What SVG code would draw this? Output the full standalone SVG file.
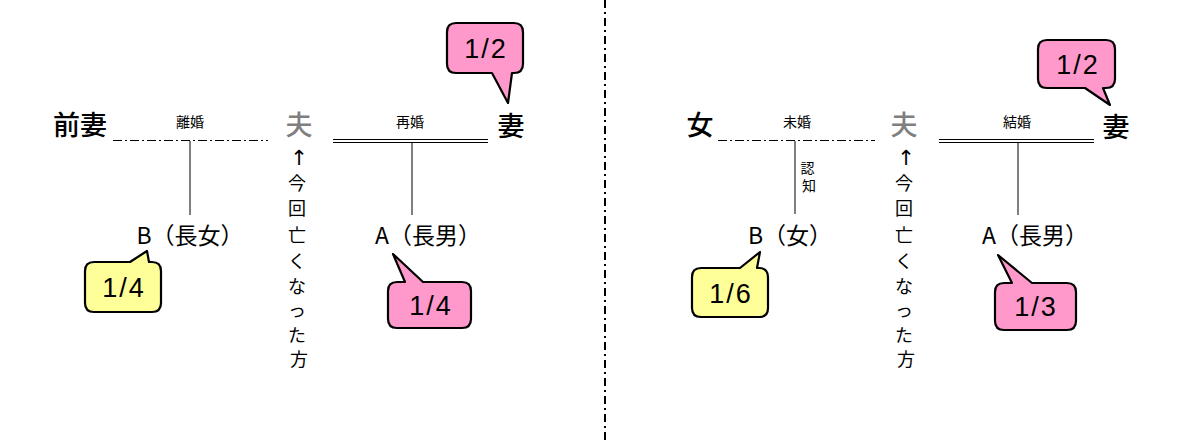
<svg xmlns="http://www.w3.org/2000/svg" width="1177" height="442" viewBox="0 0 1177 442">
<style>
.bg{fill:#ffffff}
.big{font-family:"Noto Sans CJK JP","Liberation Sans",sans-serif;font-size:27px;font-weight:500;fill:#000;text-anchor:middle}
.dead{fill:#7f7f7f}
.small{font-family:"Noto Sans CJK JP","Liberation Sans",sans-serif;font-size:14px;fill:#000;text-anchor:middle}
.child{font-family:"Noto Sans CJK JP","Liberation Sans",sans-serif;font-size:23px;font-weight:400;fill:#000;text-anchor:middle}
.vert{font-family:"Noto Sans CJK JP","Liberation Sans",sans-serif;font-size:18px;fill:#000;text-anchor:middle}
.arrow{font-family:"DejaVu Sans","Liberation Sans",sans-serif;font-size:21px;fill:#000;text-anchor:middle}
.frac{font-family:"Liberation Sans","Noto Sans CJK JP",sans-serif;font-size:27px;fill:#000;text-anchor:middle;letter-spacing:2px}
.pink{fill:#ff99cc;stroke:#000;stroke-width:2.2;stroke-linejoin:round}
.yellow{fill:#ffff99;stroke:#000;stroke-width:2.2;stroke-linejoin:round}
.ln{stroke:#000;stroke-width:1;fill:none}
.dd{stroke:#000;stroke-width:1;fill:none;stroke-dasharray:9 3 2 3}
.divider{stroke:#000;stroke-width:2;fill:none;stroke-dasharray:8 4 2 4}
</style>
<rect class="bg" x="0" y="0" width="1177" height="442"/>

<g id="connectors">
  <line class="divider" x1="605" y1="0" x2="605" y2="442"/>
  <line class="dd" x1="113" y1="140.5" x2="268" y2="140.5"/>
  <line class="ln" x1="190" y1="141" x2="190" y2="215"/>
  <line class="ln" x1="333" y1="139.5" x2="488" y2="139.5"/>
  <line class="ln" x1="333" y1="142.5" x2="488" y2="142.5"/>
  <line class="ln" x1="412" y1="143" x2="412" y2="215"/>
  <line class="dd" x1="718" y1="140.5" x2="875" y2="140.5"/>
  <line class="ln" x1="795" y1="141" x2="795" y2="214"/>
  <line class="ln" x1="939" y1="139.5" x2="1094" y2="139.5"/>
  <line class="ln" x1="939" y1="142.5" x2="1094" y2="142.5"/>
  <line class="ln" x1="1018" y1="143" x2="1018" y2="215"/>
</g>

<g id="left-exwife"><text class="big" x="80" y="135">前妻</text></g>
<g id="left-divorce-label"><text class="small" x="190" y="127">離婚</text></g>
<g id="left-husband">
  <text class="big dead" x="299" y="135">夫</text>
  <text class="arrow" x="299" y="165">↑</text>
  <text class="vert" x="299">
    <tspan x="299" y="190">今</tspan>
    <tspan x="299" y="215">回</tspan>
    <tspan x="299" y="242">亡</tspan>
    <tspan x="299" y="268">く</tspan>
    <tspan x="299" y="293">な</tspan>
    <tspan x="299" y="317">っ</tspan>
    <tspan x="299" y="342">た</tspan>
    <tspan x="299" y="366">方</tspan>
  </text>
</g>
<g id="left-remarry-label"><text class="small" x="410" y="127">再婚</text></g>
<g id="left-wife"><text class="big" x="511" y="136">妻</text></g>
<g id="left-childB"><text class="child" x="190" y="244">B（長女）</text></g>
<g id="left-childA"><text class="child" x="428" y="244">A（長男）</text></g>

<g id="left-wife-share">
  <path class="pink" d="M456,23 H514 Q523,23 523,32 V64 Q523,73 514,73 H512 L508,103 L492,73 H456 Q447,73 447,64 V32 Q447,23 456,23 Z"/>
  <text class="frac" x="486" y="58">1/2</text>
</g>
<g id="left-childB-share">
  <path class="yellow" d="M94,262 H130 L147,251 L149,262 H152 Q161,262 161,271 V303 Q161,312 152,312 H94 Q85,312 85,303 V271 Q85,262 94,262 Z"/>
  <text class="frac" x="124" y="297">1/4</text>
</g>
<g id="left-childA-share">
  <path class="pink" d="M397,282 H405 L393,254 L423,282 H462 Q471,282 471,291 V319 Q471,328 462,328 H397 Q388,328 388,319 V291 Q388,282 397,282 Z"/>
  <text class="frac" x="431" y="315">1/4</text>
</g>

<g id="right-woman"><text class="big" x="700" y="135">女</text></g>
<g id="right-unmarried-label"><text class="small" x="797" y="127">未婚</text></g>
<g id="right-acknowledge-label">
  <text class="small" x="809">
    <tspan x="809" y="173">認</tspan>
    <tspan x="809" y="191">知</tspan>
  </text>
</g>
<g id="right-husband">
  <text class="big dead" x="904" y="135">夫</text>
  <text class="arrow" x="906" y="165">↑</text>
  <text class="vert" x="906">
    <tspan x="906" y="190">今</tspan>
    <tspan x="906" y="215">回</tspan>
    <tspan x="906" y="242">亡</tspan>
    <tspan x="906" y="268">く</tspan>
    <tspan x="906" y="293">な</tspan>
    <tspan x="906" y="317">っ</tspan>
    <tspan x="906" y="342">た</tspan>
    <tspan x="906" y="366">方</tspan>
  </text>
</g>
<g id="right-marry-label"><text class="small" x="1017" y="127">結婚</text></g>
<g id="right-wife"><text class="big" x="1116" y="137">妻</text></g>
<g id="right-childB"><text class="child" x="790" y="244">B（女）</text></g>
<g id="right-childA"><text class="child" x="1035" y="244">A（長男）</text></g>

<g id="right-wife-share">
  <path class="pink" d="M1047,40 H1106 Q1115,40 1115,49 V79 Q1115,88 1106,88 H1103 L1110,105 L1085,88 H1047 Q1038,88 1038,79 V49 Q1038,40 1047,40 Z"/>
  <text class="frac" x="1078" y="74">1/2</text>
</g>
<g id="right-childB-share">
  <path class="yellow" d="M701,268 H740 L760,252 L757,268 H759 Q768,268 768,277 V308 Q768,317 759,317 H701 Q692,317 692,308 V277 Q692,268 701,268 Z"/>
  <text class="frac" x="731" y="303">1/6</text>
</g>
<g id="right-childA-share">
  <path class="pink" d="M1004,283 H1012 L998,255 L1032,283 H1067 Q1076,283 1076,292 V321 Q1076,330 1067,330 H1004 Q995,330 995,321 V292 Q995,283 1004,283 Z"/>
  <text class="frac" x="1036" y="316">1/3</text>
</g>
</svg>
